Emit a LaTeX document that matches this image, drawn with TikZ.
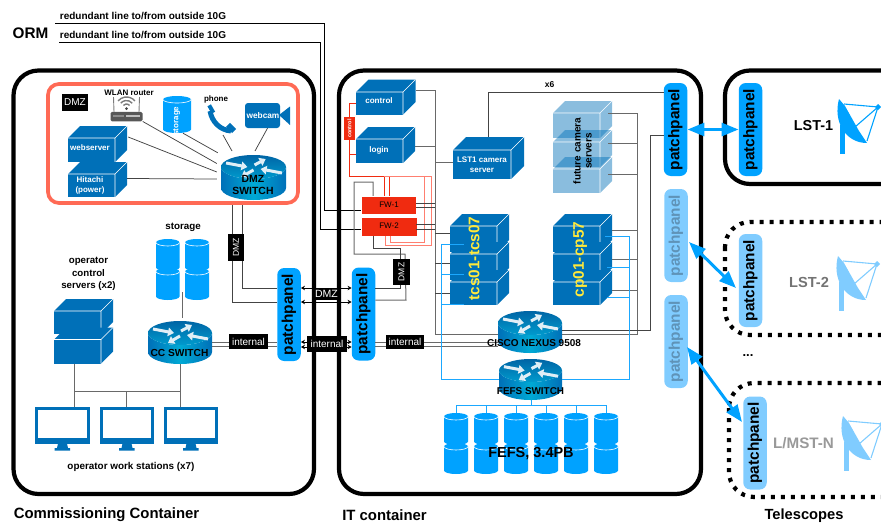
\documentclass[tikz,border=0pt]{standalone}
\usepackage{fontspec}
\setmainfont{Liberation Sans}
\usetikzlibrary{arrows.meta,fit,calc}
\definecolor{cubeblue}{HTML}{0070B8}
\definecolor{cylblue}{HTML}{00A2FF}
\definecolor{paleblue}{HTML}{80CCFF}
\definecolor{linkblue}{HTML}{1BA8FF}
\definecolor{fwred}{HTML}{F02B10}
\definecolor{palered}{HTML}{FF7F70}
\definecolor{dmzred}{HTML}{FF6A55}
\definecolor{wire}{HTML}{444444}
\definecolor{yell}{HTML}{FFE93B}
\definecolor{paletext}{HTML}{5F93B8}
\tikzset{
 txt/.style={font=\bfseries\fontsize{#1}{#1}\selectfont,inner sep=0pt,align=center},
 plain/.style={font=\fontsize{#1}{#1}\selectfont,inner sep=0pt,align=center},
 wall/.style={draw=black,line width=4.2pt,rounded corners=25pt},
 dotwall/.style={draw=black,line width=4.2pt,rounded corners=25pt,dash pattern=on 4pt off 6pt},
 conn/.style={draw=wire,line width=.75pt},
 gconn/.style={draw=wire!80,line width=1pt},
 bconn/.style={draw=linkblue,line width=1pt},
 rconn/.style={draw=fwred,line width=.9pt},
 pconn/.style={draw=palered,line width=.9pt},
 tagbox/.style={fill=black,text=white,font=\fontsize{#1}{#1}\selectfont,inner sep=0pt,align=center},
 panel/.style={rounded corners=7pt,minimum width=23.5pt,minimum height=93pt,inner sep=0pt,fill=cylblue},
 ppl/.style={txt=15.4,rotate=90,text=black},
 bigarrow/.style={draw=cylblue,line width=3pt,{Triangle[width=13pt,length=17pt]}-{Triangle[width=13pt,length=17pt]}},
 smallarrow/.style={draw=black,line width=.6pt,{Stealth[width=4.5pt,length=4pt]}-{Stealth[width=4.5pt,length=4pt]}},
}
% name, x, y of front top left, w, h, depth, fill options
\newcommand{\cube}[7]{%
 \fill[cubeblue,#7] (#2,#3) -- ++(#6,-#6) -- ++(#4,0) -- ++(-#6,#6) -- cycle;
 \fill[cubeblue,#7] (#2,#3) ++(#4,0) -- ++(#6,-#6) -- ++(0,#5) -- ++(-#6,#6) -- cycle;
 \fill[cubeblue,#7] (#2,#3) rectangle ++(#4,#5);
 \draw[white,line width=.6pt] (#2,#3) -- ++(#4,0) -- ++(0,#5) (#2,#3) ++(#4,0) -- ++(#6,-#6);
 \path (#2,#3) ++(0,-#6) coordinate (#1-a) (#2,#3) ++(#4,#5) ++(#6,0) coordinate (#1-b);
 \node[fit=(#1-a)(#1-b),inner sep=0pt] (#1) {};}
% name, x, y top, w(pt number), h
\newcommand{\cyl}[5]{%
 \path (#2,#3) ++(0,3.5) coordinate (#1-l) ++(#4,0) coordinate (#1-r) (#2,#3) coordinate (#1-o) ++(#4,#5) coordinate (#1-c);
 \fill[cylblue] (#1-l) arc[start angle=180,end angle=0,x radius=#4/2*1pt,y radius=3.5pt] -- ++(0,#5-7) arc[start angle=0,end angle=-180,x radius=#4/2*1pt,y radius=3.5pt] -- cycle;
 \draw[white,line width=.6pt] (#1-l) arc[start angle=180,end angle=360,x radius=#4/2*1pt,y radius=3.5pt];
 \node[fit=(#1-o)(#1-c),inner sep=0pt] (#1) {};}
% name, cx, ytop, rx, h, ry
\newcommand{\swit}[6]{%
 \begin{scope}[shift={(#2,#3)}]
 \shade[left color=cubeblue,right color=cubeblue,middle color=cubeblue!60!cyan]
   (-#4,#6) arc[start angle=180,end angle=360,x radius=#4*1pt,y radius=#6*1pt] -- ++(0,#5-2*#6) arc[start angle=0,end angle=-180,x radius=#4*1pt,y radius=#6*1pt] -- cycle;
 \shade[top color=cubeblue!90!black,bottom color=cubeblue!70!cyan] (0,#6) ellipse[x radius=#4*1pt,y radius=#6*1pt];
 \begin{scope}[shift={(0,#6)},x=#4/32*1pt,y=-#6/12*1pt]
  \foreach \a/\b in {{-27,-4}/{-6,0},{1,-2}/{12,-8},{0,3}/{-12,10},{28,6}/{7,2}}
   \draw[draw=white!88!cubeblue,line width=3pt,-{Triangle[width=8.5pt,length=6pt]}] (\a) -- (\b);
 \end{scope}
 \coordinate (#1-a) at (-#4,0); \coordinate (#1-b) at (#4,#5);
 \end{scope}
 \node[fit=(#1-a)(#1-b),inner sep=0pt] (#1) {};}
% name, x, y
\newcommand{\monitor}[3]{%
 \begin{scope}[shift={(#2,#3)}]
 \fill[cubeblue] (0,0) rectangle (54.5,36.5);
 \fill[white] (3.4,3.4) rectangle (51.5,30.5);
 \fill[cubeblue] (23,36.5) -- (32,36.5) -- (33,41) -- (35,41) -- (35,43.5) -- (19.5,43.5) -- (19.5,41) -- (22,41) -- cycle;
 \coordinate (#1-a) at (0,0); \coordinate (#1-b) at (54.5,43.5);
 \end{scope}
 \node[fit=(#1-a)(#1-b),inner sep=0pt] (#1) {};}
% name, tip x, tip y, colour
\newcommand{\dish}[4]{%
 \begin{scope}[shift={(#2,#3)}]
 \fill[#4] (1,26) rectangle (6,55);
 \fill[#4] (0,0) .. controls (-6,22) and (6,44) .. (28,44) -- (20,32) -- (6,7) -- cycle;
 \draw[#4,line width=1.1pt] (5,5) -- (39,8) -- (16,28) (39,8) -- (28,42);
 \fill[#4] (36,8) -- (39,5) -- (42,8) -- (39,11) -- cycle;
 \coordinate (#1-a) at (-1,0); \coordinate (#1-b) at (42,55);
 \end{scope}
 \node[fit=(#1-a)(#1-b),inner sep=0pt] (#1) {};}
\begin{document}
\begin{tikzpicture}[x=1pt,y=-1pt]
\useasboundingbox (0,0) rectangle (881,525);
% containers
\draw[wall] (13.5,70.5) rectangle (314,494);
\draw[wall] (339,70.5) rectangle (701,494);
\draw[wall] (725,70.5) rectangle (940,184);
\draw[dotwall] (725,222) rectangle (940,335);
\draw[dotwall] (729,383) rectangle (940,497);
\draw[draw=dmzred,line width=3.7pt,rounded corners=11pt] (48,84) rectangle (298,203);
% ---- commissioning shapes
\cube{webserver}{68}{138}{47}{24}{12}{}
\cube{hitachi}{68}{174}{47}{23}{12}{}
\cube{opsrvA}{54}{311}{47}{23}{12}{}
\cube{opsrvB}{54}{339.5}{47}{24}{12}{}
\cyl{dmzstore}{163}{96}{28}{37}
\cyl{storeA}{156}{239}{23.5}{32}
\cyl{storeB}{185}{239}{24}{32}
\cyl{storeC}{156}{268}{23.5}{32}
\cyl{storeD}{185}{268}{24}{32}
\swit{dmzsw}{253.5}{155}{32.5}{45}{12}
\swit{ccsw}{180}{321}{32}{43}{12}
\monitor{monA}{35}{407}
\monitor{monB}{99.5}{407}
\monitor{monC}{163.5}{407}
% router
\draw[draw=wire!70,line width=.9pt] (114,112) -- (113.5,97) (139,112) -- (139.5,97);
\foreach \r in {4,7.5,11}
 \draw[draw=wire!70,line width=1.4pt] (126.5,108) ++(40:\r pt) arc[start angle=40,end angle=140,radius=\r pt];
\fill[wire] (126.5,108.5) circle[radius=1.5pt];
\node[fill=wire!90,rounded corners=1.5pt,minimum width=32pt,minimum height=9.5pt,inner sep=0pt] (router) at (126.5,116.5) {};
\fill[white!75!black] (126,115) rectangle (140,116.5);
\fill[white!55!black] (113,115) rectangle (124,116.5);
% phone
\path (207,105) coordinate (ph-a) (238,134) coordinate (ph-b);
\draw[cubeblue,line width=5pt] (210,111) .. controls (212,122) and (220,130) .. (231,131);
\draw[cubeblue,line width=8.5pt] (209.5,110) -- (213,108) ;
\draw[cubeblue,line width=8.5pt] (229,130) -- (233,126);
\node[fit=(ph-a)(ph-b),inner sep=0pt] (phone) {};
% webcam
\node[fill=cubeblue,rounded corners=3pt,minimum width=35pt,minimum height=25pt,inner sep=0pt] (webcam) at (262.5,115.5) {};
\fill[cubeblue] (279,115) -- (290,106.5) -- (290,125) -- cycle;
% ---- IT shapes
\cube{control}{356}{92}{47}{22.5}{12.5}{}
\cube{login}{356}{139}{47}{24}{12}{}
\cube{lstcam}{453}{150}{58}{29}{13}{}
\foreach \n/\y/\h in {futA/113/25,futB/142/25,futC/169/24}
 {\cube{\n}{553}{\y}{47}{\h}{12}{fill opacity=.46}}
\cube{tcsA}{450}{226}{47}{26}{12}{}
\cube{tcsB}{450}{254}{47}{26}{12}{}
\cube{tcsC}{450}{282}{47}{23}{12}{}
\cube{cpA}{553}{226}{47}{26}{12}{}
\cube{cpB}{553}{254}{47}{26}{12}{}
\cube{cpC}{553}{282}{47}{23}{12}{}
\swit{nexus}{530}{311}{32}{42}{12}
\swit{fefssw}{530.5}{359}{31.5}{41}{11.5}
\foreach \i/\x in {1/444,2/474,3/504,4/534,5/564,6/594}{
 \cyl{fA\i}{\x}{413}{24}{32}
 \cyl{fB\i}{\x}{443}{24}{31}
}
\node[fill=fwred,minimum width=55pt,minimum height=18pt,inner sep=0pt,draw=white,line width=.4pt] (fwA) at (388.5,205) {};
\node[fill=fwred,minimum width=56pt,minimum height=19pt,inner sep=0pt,draw=white,line width=.4pt] (fwB) at (389,226.5) {};
% ---- patch panels
\node[panel] (ppC) at (289,314.5) {};
\node[panel] (ppI) at (363.5,314) {};
\node[panel] (ppA) at (675.5,129.5) {};
\node[panel,fill=paleblue] (ppB) at (676,235.5) {};
\node[panel,fill=paleblue] (ppD) at (676,341.5) {};
\node[panel] (ppL) at (750.5,129.5) {};
\node[panel,fill=paleblue] (ppM) at (750.5,280.5) {};
\node[panel,fill=paleblue] (ppN) at (755,443) {};
% ---- dishes
\dish{dishA}{839}{99}{cylblue}
\dish{dishB}{838}{256}{paleblue}
\dish{dishC}{843}{416}{paleblue}
% ---- connectors: outside lines
\coordinate (orm1) at (55,23.5);
\coordinate (orm2) at (59,42.5);
\draw[draw=black,line width=1pt] (orm1) -| (324,210) -- (fwA.west |- 0,210);
\draw[draw=black,line width=1pt] (orm2) -| (320.5,229) -- (fwB.west |- 0,229);
% DMZ network
\draw[conn] (router.south east) -- ($(dmzsw.west)+(-4,-14)$);
\draw[conn] (dmzstore.south) ++(6,0) -- ($(dmzsw.north west)+(-3,-2)$);
\draw[conn] (223,135) -- (232,151);
\draw[conn] (webcam.south) ++(5,0) -- (255,151);
\draw[conn] (webserver.east) ++(1,-7) -- ($(dmzsw.west)+(-4,-5.5)$);
\draw[conn] (hitachi.east) ++(0,-1) -- ($(dmzsw.west)+(-4,1.5)$);
% comm lower
\coordinate (stoCC) at (182,292);
\draw[gconn] (stoCC) -- (182,318);
\coordinate (busW) at (74,391);
\draw[gconn] (74,0 |- opsrvB.south) -- (74,0 |- monA.north);
\draw[gconn] (ccsw.south) -- (ccsw.south |- monC.north);
\draw[gconn] (busW) -- (ccsw.south |- busW);
\draw[gconn] (monB.north) -- (monB.north |- busW);
% comm DMZ / internal
\draw[conn] (232,205) |- (ppC.west |- 0,302);
\draw[conn] (242,205) |- (ppC.west |- 0,288);
\draw[gconn] (ccsw.east |- 0,342) -- (ppC.west |- 0,342);
\draw[gconn] (ccsw.east |- 0,346) -- (ppC.west |- 0,346);
\foreach \y in {288,302,342,347}
 \draw[smallarrow] (ppC.east |- 0,\y) -- (ppI.west |- 0,\y);
\draw[gconn] (ppI.east |- 0,342) -- (nexus.west |- 0,342);
\draw[gconn] (ppI.east |- 0,346) -- (nexus.west |- 0,346);
% firewall grey
\draw[gconn] (373,0 |- fwA.north) |- (354,182) |- (405,254) -- (406,300) -- (ppI.east |- 0,300);
\draw[conn] (373,0 |- fwB.south) |- (400,248) |- (ppI.east |- 0,288);
% red
\draw[rconn] (control.west |- 0,103) -- (349,103) |- (login.west |- 0,154);
\draw[rconn] (349,154) |- (384,176);
\draw[rconn] (384,176) -- (384,0 |- fwA.north);
\draw[rconn] (389,176) -- (389,0 |- fwA.north);
\draw[pconn] (384,176) -| (431,245) -| (385,0 |- fwB.south);
\draw[pconn] (389,176) -| (424,242) -| (390,0 |- fwB.south);
% main bus
\coordinate (busL) at (435,0);
\coordinate (busR) at (637,0);
\coordinate (busF) at (650.5,0);
\draw[gconn] (control.east |- 0,90) -| (busL |- 0,334) -- (nexus.west |- 0,334);
\draw[gconn] (login.east |- 0,146) -- (busL |- 0,146);
\draw[gconn] (busL |- 0,162) -- (lstcam.west |- 0,162);
\foreach \y in {203,207,224,229}
 \draw[conn] (fwA.east |- 0,\y) -- (busL |- 0,\y);
\foreach \y in {233,263,293}
 \draw[conn] (busL |- 0,\y) -- (tcsA.west |- 0,\y);
\draw[conn] (lstcam.north -| 488,0) -- (488,92) -- (ppA.west |- 0,92);
\draw[gconn] (608,113) -| (busR |- 0,334) -- (nexus.east |- 0,334);
\foreach \y in {143,174}
 \draw[gconn] (608,\y) -- (busR |- 0,\y);
\foreach \y in {230,259,290}
 \draw[gconn] (612,\y) -- (busR |- 0,\y);
\draw[conn] (ppA.west |- 0,135) -| (busF |- 0,330) -- (nexus.east |- 0,330);
% blue fefs
\draw[bconn] (464,244) -| (441,379) -- (fefssw.west |- 0,379);
\foreach \y in {274,304}
 \draw[bconn] (441,\y) -- (464,\y);
\draw[bconn] (605,236) -| (629,379) -- (fefssw.east |- 0,379);
\foreach \y in {267,297}
 \draw[bconn] (607,\y) -- (629,\y);
\draw[bconn] (fefssw.south) ++(1,0) -- ++(0,5) coordinate (busS);
\draw[bconn] (fA1.north |- busS) -- (fA6.north |- busS);
\foreach \i in {1,...,6}
 \draw[bconn] (fA\i.north |- busS) -- (fA\i.north);
% telescope links
\draw[bigarrow] (ppA.east) -- (ppL.west);
\coordinate (lnkA) at (689,242); \coordinate (lnkB) at (736,288);
\draw[bigarrow] (lnkA) -- (lnkB);
\coordinate (lnkC) at (687,347); \coordinate (lnkD) at (742,422);
\draw[bigarrow] (lnkC) -- (lnkD);
% ---- tags
\node[tagbox=10,minimum width=26pt,minimum height=16.5pt] (tagDMZ) at (75,102.5) {DMZ};
\node[tagbox=8.5,minimum width=16pt,minimum height=27pt] (tagA) at (236,247.5) {\rotatebox{90}{DMZ}};
\node[tagbox=8.5,minimum width=17pt,minimum height=26pt] (tagB) at (401.5,272) {\rotatebox{90}{DMZ}};
\node[tagbox=10.5,minimum width=23pt,minimum height=12pt] (tagC) at (326.5,293.5) {DMZ};
\node[tagbox=10,minimum width=39pt,minimum height=15.5pt] (tagD) at (248.5,341.5) {internal};
\node[tagbox=10,minimum width=40pt,minimum height=16pt] (tagE) at (327,344) {internal};
\node[tagbox=10,minimum width=38pt,minimum height=14.5pt] (tagF) at (405,342) {internal};
\node[fill=fwred,text=white,font=\bfseries\fontsize{5.5}{5.5}\selectfont,minimum width=11pt,minimum height=23pt,inner sep=0pt] (tagG) at (349.5,128.5) {\rotatebox{90}{control}};
% ---- texts
\node[txt=15.3] (t1) at (30.5,33) {ORM};
\node[txt=10] (t2) at (143,15.5) {redundant line to/from outside 10G};
\node[txt=10] (t3) at (143,34.5) {redundant line to/from outside 10G};
\node[txt=8] (t4) at (129,93) {WLAN router};
\node[txt=8] (t5) at (216,99.5) {phone};
\node[txt=8,text=white,rotate=90] (t6) at (176.5,121) {storage};
\node[txt=8.3,text=white] (t7) at (263,115.5) {webcam};
\node[txt=8,text=white] (t8) at (90,148) {webserver};
\node[txt=8,text=white] (t9) at (90,180) {Hitachi};
\node[txt=8,text=white] (t10) at (90,190) {(power)};
\node[txt=10.4] (t11) at (253,179) {DMZ};
\node[txt=10.4] (t12) at (253,191) {SWITCH};
\node[txt=9.8] (t13) at (183,227) {storage};
\node[txt=9.7] (t14) at (88.5,261) {operator};
\node[txt=9.7] (t15) at (88.5,273.5) {control};
\node[txt=9.7] (t16) at (88.5,285.5) {servers (x2)};
\node[txt=10.2] (t17) at (179.5,352.5) {CC SWITCH};
\node[txt=9.9] (t18) at (131,467) {operator work stations (x7)};
\node[txt=14.9] (t19) at (106.5,515) {Commissioning Container};
\node[txt=14.9] (t20) at (384.5,515) {IT container};
\node[txt=14.7] (t21) at (804,516) {Telescopes};
\node[txt=8.1,text=white] (t22) at (379,101) {control};
\node[txt=8.1,text=white] (t23) at (379,150) {login};
\node[txt=8,text=white] (t24) at (482,160) {LST1 camera};
\node[txt=8,text=white] (t25) at (482,170) {server};
\node[plain=8] (t26) at (389,205) {FW-1};
\node[plain=8] (t27) at (389,226) {FW-2};
\node[txt=8.5] (t28) at (549.5,85) {x6};
\node[txt=10,rotate=90] (t29) at (577,151) {future camera};
\node[txt=10,rotate=90] (t30) at (589,151) {servers};
\node[txt=15.4,text=yell,rotate=90] (t31) at (474,258.5) {tcs01-tcs07};
\node[txt=15.4,text=yell,rotate=90] (t32) at (580,259.5) {cp01-cp57};
\node[txt=10] (t33) at (534,343) {CISCO NEXUS 9508};
\node[txt=9.9] (t34) at (530.5,391) {FEFS SWITCH};
\node[txt=14.5] (t35) at (531,454) {FEFS, 3.4PB};
\node[txt=14.4] (t36) at (813.5,126) {LST-1};
\node[txt=14.6,text=wire!75] (t37) at (809,282) {LST-2};
\node[txt=15.2,text=black!40] (t38) at (803.5,443) {L/MST-N};
\node[txt=13] (t39) at (748,356) {...};
\node[ppl] (p1) at (ppC) {patchpanel};
\node[ppl] (p2) at (ppI) {patchpanel};
\node[ppl] (p3) at (ppA) {patchpanel};
\node[ppl,text=paletext] (p4) at (ppB) {patchpanel};
\node[ppl,text=paletext] (p5) at (ppD) {patchpanel};
\node[ppl] (p6) at (ppL) {patchpanel};
\node[ppl] (p7) at (ppM) {patchpanel};
\node[ppl] (p8) at (ppN) {patchpanel};
\end{tikzpicture}
\end{document}
